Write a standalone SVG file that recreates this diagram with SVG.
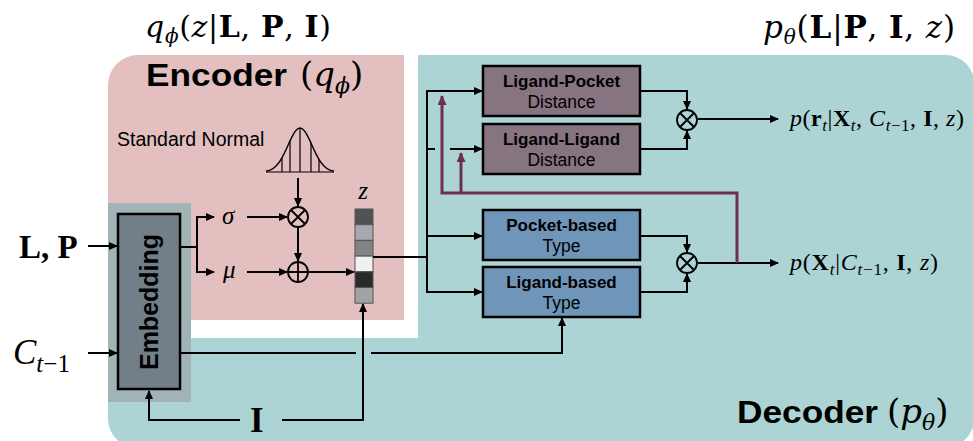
<svg xmlns="http://www.w3.org/2000/svg" width="973" height="441" viewBox="0 0 973 441">
<style>
.sans{font-family:"Liberation Sans",Arial,sans-serif}
.serif{font-family:"Liberation Serif","DejaVu Serif",serif}
.dserif{font-family:"DejaVu Serif","Liberation Serif",serif}
.it{font-style:italic}
.bf{font-weight:bold}
.ln{fill:none;stroke:#000;stroke-width:2}
.mr{fill:none;stroke:#6e3048;stroke-width:3}
.box{stroke:#000;stroke-width:2.5}
.dist{fill:#867480}
.type{fill:#6f96b9}
.op{fill:none;stroke:#000;stroke-width:1.8}
</style>
<defs>
<marker id="ah" markerUnits="userSpaceOnUse" markerWidth="9" markerHeight="8" refX="8" refY="4" orient="auto"><path d="M0,0 L9,4 L0,8 z" fill="#000"/></marker>
<marker id="am" markerUnits="userSpaceOnUse" markerWidth="10" markerHeight="9" refX="9" refY="4.5" orient="auto"><path d="M0,0 L10,4.5 L0,9 z" fill="#6e3048"/></marker>
</defs>
<rect width="973" height="441" fill="#fff"/>
<!-- Decoder background -->
<g id="decoder">
<rect x="108" y="55" width="866" height="392" rx="28" fill="#add4d4"/>
<text class="sans bf" x="737" y="423" font-size="31" textLength="141" lengthAdjust="spacingAndGlyphs">Decoder</text>
<text class="dserif" x="887" y="423" font-size="34">(<tspan class="it">p</tspan><tspan class="it" font-size="22" dy="7">θ</tspan><tspan dy="-7">)</tspan></text>
</g>
<!-- Encoder background -->
<g id="encoder">
<rect x="100" y="45" width="318" height="293" fill="#fff"/>
<path d="M108,85 A30,30 0 0 1 138,55 H404 V320 H108 Z" fill="#e3bfbf"/>
<text class="sans bf" x="146" y="86" font-size="31" textLength="141" lengthAdjust="spacingAndGlyphs">Encoder</text>
<text class="dserif" x="300" y="86" font-size="34">(<tspan class="it">q</tspan><tspan class="it" font-size="22" dy="7">ϕ</tspan><tspan dy="-7">)</tspan></text>
</g>
<!-- titles -->
<text id="title-q" class="dserif" x="145" y="37" font-size="30" textLength="186" lengthAdjust="spacing"><tspan class="it">q</tspan><tspan class="it" font-size="20" dy="6">ϕ</tspan><tspan dy="-6">(</tspan><tspan class="it">z</tspan>|<tspan class="bf">L</tspan>, <tspan class="bf">P</tspan>, <tspan class="bf">I</tspan>)</text>
<text id="title-p" class="dserif" x="763" y="38" font-size="31" textLength="192" lengthAdjust="spacing"><tspan class="it">p</tspan><tspan class="it" font-size="20" dy="6">θ</tspan><tspan dy="-6">(</tspan><tspan class="bf">L</tspan>|<tspan class="bf">P</tspan>, <tspan class="bf">I</tspan>, <tspan class="it">z</tspan>)</text>
<!-- inputs -->
<g id="input-LP"><text class="serif bf" x="19" y="258" font-size="33">L, P</text></g>
<g id="input-C"><text class="serif" x="13" y="364" font-size="35"><tspan class="it">C</tspan><tspan class="it" font-size="25" dy="8">t</tspan><tspan font-size="25">−1</tspan></text></g>
<g id="input-I"><text class="serif bf" x="250" y="432" font-size="35">I</text></g>
<!-- Embedding -->
<g id="embedding">
<rect x="108" y="203" width="83" height="199" fill="#a0b4b6"/>
<rect x="118" y="214" width="62" height="175" fill="#737f88" class="box"/>
<text class="sans bf" font-size="25" text-anchor="middle" transform="translate(158,302) rotate(-90)">Embedding</text>
</g>
<!-- standard normal -->
<g id="standard-normal">
<text class="sans" x="117" y="146" font-size="19.5">Standard Normal</text>
<polyline fill="none" stroke="#000" stroke-width="1.4" points="266,171.2 268,170.7 270,170.1 272,169.1 274,167.8 276,166 278,163.8 280,161 282,157.7 284,153.9 286,149.7 288,145.3 290,140.9 292,136.8 294,133.2 296,130.4 298,128.6 300,128 302,128.6 304,130.4 306,133.2 308,136.8 310,140.9 312,145.3 314,149.7 316,153.9 318,157.7 320,161 322,163.8 324,166 326,167.8 328,169.1 330,170.1 332,170.7 334,171.2"/>
<path d="M266,172 H334 M282,157.7 V172 M290,140.9 V172 M300,128 V172 M311,143.1 V172 M319,159.4 V172" stroke="#000" stroke-width="1.2" fill="none"/>
</g>
<g id="sigma"><text class="serif it" x="222" y="224" font-size="25">σ</text></g>
<g id="mu"><text class="serif it" x="223" y="278" font-size="25">μ</text></g>
<g id="mult-enc"><circle cx="298" cy="217" r="10" class="op"/><path d="M291,210 L305,224 M305,210 L291,224" class="op"/></g>
<g id="add-enc"><circle cx="298" cy="272" r="10" class="op"/><path d="M288,272 H308 M298,262 V282" class="op"/></g>
<!-- z latent -->
<g id="z">
<text class="serif it" x="363" y="199" font-size="25" text-anchor="middle">z</text>
<g stroke="#555" stroke-width="1">
<rect x="355" y="209" width="18" height="15.7" fill="#505256"/>
<rect x="355" y="224.7" width="18" height="15.7" fill="#a8a9ae"/>
<rect x="355" y="240.4" width="18" height="15.7" fill="#818487"/>
<rect x="355" y="256.1" width="18" height="15.7" fill="#f1f1f1"/>
<rect x="355" y="271.8" width="18" height="15.7" fill="#2a2a2a"/>
<rect x="355" y="287.5" width="18" height="15.7" fill="#a2a3a7"/>
</g>
</g>
<!-- decoder boxes -->
<g id="ligand-pocket-distance">
<rect x="483" y="66" width="157" height="50" class="box dist"/>
<text class="sans bf" x="561.5" y="87" font-size="17" text-anchor="middle">Ligand-Pocket</text>
<text class="sans" x="561.5" y="108" font-size="17.5" text-anchor="middle">Distance</text>
</g>
<g id="ligand-ligand-distance">
<rect x="483" y="124" width="157" height="50" class="box dist"/>
<text class="sans bf" x="561.5" y="145" font-size="17" text-anchor="middle">Ligand-Ligand</text>
<text class="sans" x="561.5" y="166" font-size="17.5" text-anchor="middle">Distance</text>
</g>
<g id="pocket-based-type">
<rect x="483" y="210" width="157" height="50" class="box type"/>
<text class="sans bf" x="561.5" y="231" font-size="17" text-anchor="middle">Pocket-based</text>
<text class="sans" x="561.5" y="252" font-size="17.5" text-anchor="middle">Type</text>
</g>
<g id="ligand-based-type">
<rect x="483" y="267" width="157" height="50" class="box type"/>
<text class="sans bf" x="561.5" y="288" font-size="17" text-anchor="middle">Ligand-based</text>
<text class="sans" x="561.5" y="309" font-size="17.5" text-anchor="middle">Type</text>
</g>
<g id="mult-dist"><circle cx="687" cy="120" r="10" class="op"/><path d="M680,113 L694,127 M694,113 L680,127" class="op"/></g>
<g id="mult-type"><circle cx="687" cy="263" r="10" class="op"/><path d="M680,256 L694,270 M694,256 L680,270" class="op"/></g>
<!-- outputs -->
<g id="output-r"><text class="serif" x="790" y="126" font-size="24" textLength="174" lengthAdjust="spacing"><tspan class="it">p</tspan>(<tspan class="bf">r</tspan><tspan class="it" font-size="17" dy="5">t</tspan><tspan dy="-5">|</tspan><tspan class="bf">X</tspan><tspan class="it" font-size="17" dy="5">t</tspan><tspan dy="-5">, </tspan><tspan class="it">C</tspan><tspan class="it" font-size="17" dy="5">t</tspan><tspan font-size="17">−1</tspan><tspan dy="-5">, </tspan><tspan class="bf">I</tspan>, <tspan class="it">z</tspan>)</text></g>
<g id="output-X"><text class="serif" x="790" y="270" font-size="24" textLength="148" lengthAdjust="spacing"><tspan class="it">p</tspan>(<tspan class="bf">X</tspan><tspan class="it" font-size="17" dy="5">t</tspan><tspan dy="-5">|</tspan><tspan class="it">C</tspan><tspan class="it" font-size="17" dy="5">t</tspan><tspan font-size="17">−1</tspan><tspan dy="-5">, </tspan><tspan class="bf">I</tspan>, <tspan class="it">z</tspan>)</text></g>
<!-- connectors -->
<g id="connectors">
<path class="ln" d="M88,246 H117" marker-end="url(#ah)"/>
<path class="ln" d="M88,353 H117" marker-end="url(#ah)"/>
<path class="ln" d="M240,420 H149 V391" marker-end="url(#ah)"/>
<path class="ln" d="M282,420 H363 V304" marker-end="url(#ah)"/>
<path class="ln" d="M181,247 H197 M197,217 V272"/>
<path class="ln" d="M196,217 H214" marker-end="url(#ah)"/>
<path class="ln" d="M196,272 H214" marker-end="url(#ah)"/>
<path class="ln" d="M247,217 H287" marker-end="url(#ah)"/>
<path class="ln" d="M247,272 H287" marker-end="url(#ah)"/>
<path class="ln" d="M298,178 V206" marker-end="url(#ah)"/>
<path class="ln" d="M298,228 V261" marker-end="url(#ah)"/>
<path class="ln" d="M309,272 H354" marker-end="url(#ah)"/>
<path class="ln" d="M373,257 H427 M427,90 V293"/>
<path class="ln" d="M426,91 H482" marker-end="url(#ah)"/>
<path class="ln" d="M426,149 H435"/>
<path class="ln" d="M450,149 H482" marker-end="url(#ah)"/>
<path class="ln" d="M426,236 H482" marker-end="url(#ah)"/>
<path class="ln" d="M426,292 H482" marker-end="url(#ah)"/>
<path class="ln" d="M641,91 H687 V109" marker-end="url(#ah)"/>
<path class="ln" d="M641,149 H687 V131" marker-end="url(#ah)"/>
<path class="ln" d="M641,236 H687 V252" marker-end="url(#ah)"/>
<path class="ln" d="M641,292 H687 V274" marker-end="url(#ah)"/>
<path class="ln" d="M698,119 H778" marker-end="url(#ah)"/>
<path class="ln" d="M698,263 H778" marker-end="url(#ah)"/>
<path class="ln" d="M181,353 H356"/>
<path class="ln" d="M371,353 H562 V318" marker-end="url(#ah)"/>
<path class="mr" d="M737,263 V193 H442 V96" marker-end="url(#am)"/>
<path class="mr" d="M461,193 V153" marker-end="url(#am)"/>
</g>
</svg>
